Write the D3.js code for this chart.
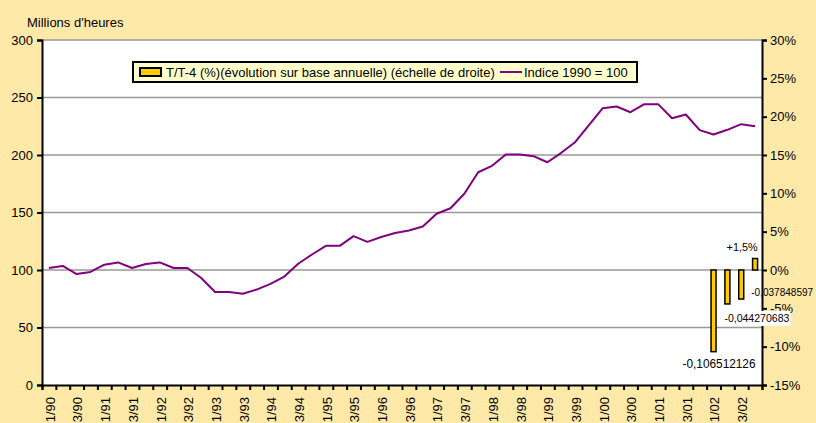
<!DOCTYPE html>
<html>
<head>
<meta charset="utf-8">
<script src="https://cdn.jsdelivr.net/npm/d3@7"></script>
<style>
  html, body { margin: 0; padding: 0; background: #FFE9A8; }
  svg { display: block; }
  text { font-family: "Liberation Sans", Arial, sans-serif; font-size: 13px; fill: #000; }
</style>
</head>
<body>
<svg id="chart" width="816" height="423"></svg>
<script>
// Quarterly categories, 1990 Q1 to 2002 Q4
const quarters = [
  "1/90","2/90","3/90","4/90","1/91","2/91","3/91","4/91",
  "1/92","2/92","3/92","4/92","1/93","2/93","3/93","4/93",
  "1/94","2/94","3/94","4/94","1/95","2/95","3/95","4/95",
  "1/96","2/96","3/96","4/96","1/97","2/97","3/97","4/97",
  "1/98","2/98","3/98","4/98","1/99","2/99","3/99","4/99",
  "1/00","2/00","3/00","4/00","1/01","2/01","3/01","4/01",
  "1/02","2/02","3/02","4/02"
];

// Index of hours worked, 1990 = 100 (left scale)
const indexValues = [
  101.7, 103.5,  96.5,  98.3, 104.6, 106.6, 101.7, 105.2,
  106.6, 101.7, 101.7,  93.0,  80.9,  80.9,  79.3,  83.0,
   88.0,  94.3, 105.4, 113.5, 121.0, 121.0, 129.4, 124.5,
  128.7, 132.2, 134.3, 137.8, 148.9, 153.7, 166.3, 185.0,
  190.6, 200.4, 200.4, 199.0, 193.7, 201.9, 211.1, 225.9,
  240.7, 242.2, 237.2, 244.2, 244.2, 232.0, 235.2, 221.6,
  217.8, 221.9, 226.8, 225.0
];

// Year-on-year change T/T-4 (right scale)
const barQuarters = ["1/02", "2/02", "3/02", "4/02"];
const barValues = [-0.106512126, -0.044270683, -0.037848597, 0.015];
const barLabels = ["-0,106512126", "-0,044270683", "-0,037848597", "+1,5%"];

// Axis ticks
const leftTicks = [0, 50, 100, 150, 200, 250, 300];
const rightTicks = [-0.15, -0.10, -0.05, 0, 0.05, 0.10, 0.15, 0.20, 0.25, 0.30];
const labelledQuarters = quarters.filter(q => q[0] === "1" || q[0] === "3");

const plot = { left: 42, right: 762, top: 40, bottom: 385 };
const svg = d3.select("#chart");

const x = d3.scaleBand().domain(quarters).range([plot.left, plot.right]).padding(0);
const xEdge = d3.scaleLinear().domain([0, quarters.length]).range([plot.left, plot.right]);
const yLeft = d3.scaleLinear().domain([0, 300]).range([plot.bottom, plot.top]);
const yRight = d3.scaleLinear().domain([-0.15, 0.30]).range([plot.bottom, plot.top]);

// Plot area
svg.append("rect")
  .attr("x", plot.left).attr("y", plot.top)
  .attr("width", plot.right - plot.left).attr("height", plot.bottom - plot.top)
  .attr("fill", "#fff");

// Horizontal gridlines
svg.append("g").selectAll("line")
  .data(leftTicks.filter(d => d > 0))
  .join("line")
  .attr("x1", plot.left).attr("x2", plot.right)
  .attr("y1", d => yLeft(d)).attr("y2", d => yLeft(d))
  .attr("stroke", "#999").attr("stroke-width", 1.5);

// Index line
const line = d3.line()
  .x((d, i) => x(quarters[i]) + x.bandwidth() / 2)
  .y(d => yLeft(d));
svg.append("path")
  .datum(indexValues)
  .attr("d", line)
  .attr("fill", "none")
  .attr("stroke", "#800080")
  .attr("stroke-width", 2)
  .attr("stroke-linejoin", "round");

// Bars, anchored at 0 %
const barW = 5;
svg.append("g").selectAll("rect")
  .data(barValues)
  .join("rect")
  .attr("x", (d, i) => x(barQuarters[i]) + x.bandwidth() / 2 - barW / 2)
  .attr("y", d => Math.min(yRight(d), yRight(0)))
  .attr("width", barW)
  .attr("height", d => Math.abs(yRight(d) - yRight(0)))
  .attr("fill", "#FFCC00")
  .attr("stroke", "#000")
  .attr("stroke-width", 1.5);

// Left axis
const axL = svg.append("g")
  .attr("transform", `translate(${plot.left},0)`)
  .call(d3.axisLeft(yLeft).tickValues(leftTicks).tickSize(5).tickPadding(4).tickFormat(d3.format("d")));

// Right axis
const axR = svg.append("g")
  .attr("transform", `translate(${plot.right},0)`)
  .call(d3.axisRight(yRight).tickValues(rightTicks).tickSize(5).tickPadding(3)
    .tickFormat(d => Math.round(d * 100) + "%"));

// Bottom axis: ticks between categories
const axB = svg.append("g")
  .attr("transform", `translate(0,${plot.bottom})`)
  .call(d3.axisBottom(xEdge).tickValues(d3.range(quarters.length + 1)).tickSize(5).tickFormat(""));

// Category labels, rotated
const axLab = svg.append("g")
  .attr("transform", `translate(0,${plot.bottom})`)
  .call(d3.axisBottom(x).tickValues(labelledQuarters).tickSize(0).tickPadding(0));
axLab.select(".domain").remove();
axLab.selectAll("text")
  .attr("transform", "translate(0,12) rotate(-90)")
  .attr("text-anchor", "end")
  .attr("x", 0).attr("y", 0)
  .attr("dy", "0.45em");

[axL, axR, axB].forEach(g => {
  g.select(".domain").attr("stroke", "#000").attr("stroke-width", 2);
  g.selectAll(".tick line").attr("stroke", "#000").attr("stroke-width", 2);
});
svg.selectAll(".tick text")
  .style("font-family", '"Liberation Sans", Arial, sans-serif')
  .style("font-size", "13px").attr("fill", "#000");

// Bar value labels (condensed to fit beside the bars)
const bx = i => x(barQuarters[i]) + x.bandwidth() / 2;
const labelSpec = [
  { dx: 5.5, anchor: "middle", y: i => yRight(barValues[i]) + 16.5, size: 12, len: 73, box: false },
  { dx: -3,  anchor: "start",  y: i => yRight(barValues[i]) + 18,   size: 11, len: 65, box: true },
  { dx: 10,  anchor: "start",  y: i => yRight(barValues[i]) - 3,    size: 11, len: 62, box: false },
  { dx: -13, anchor: "middle", y: i => yRight(barValues[i]) - 8,    size: 11, len: 31, box: false }
];
barLabels.forEach((txt, i) => {
  const s = labelSpec[i];
  const t = svg.append("text")
    .attr("x", bx(i) + s.dx)
    .attr("y", s.y(i))
    .attr("text-anchor", s.anchor)
    .style("font-size", s.size + "px")
    .attr("textLength", s.len)
    .attr("lengthAdjust", "spacingAndGlyphs")
    .text(txt);
  if (s.box) {
    const bb = t.node().getBBox();
    svg.insert("rect", () => t.node())
      .attr("x", bb.x - 2).attr("y", bb.y - 1)
      .attr("width", bb.width + 3).attr("height", bb.height + 3)
      .attr("fill", "#fff");
  }
});

// Axis title
svg.append("text").attr("x", 27).attr("y", 26.5).text("Millions d'heures");

// Legend
const lg = svg.append("g");
lg.append("rect").attr("x", 133).attr("y", 62).attr("width", 504).attr("height", 20)
  .attr("fill", "#FFFFCC").attr("stroke", "#000").attr("stroke-width", 2);
lg.append("rect").attr("x", 140).attr("y", 68).attr("width", 21).attr("height", 8)
  .attr("fill", "#FFCC00").attr("stroke", "#000").attr("stroke-width", 2);
lg.append("text").attr("x", 166).attr("y", 77)
  .text("T/T-4 (%)(évolution sur base annuelle) (échelle de droite)");
lg.append("line").attr("x1", 500).attr("x2", 522).attr("y1", 72).attr("y2", 72)
  .attr("stroke", "#800080").attr("stroke-width", 2);
lg.append("text").attr("x", 524).attr("y", 77).text("Indice 1990 = 100");
</script>
</body>
</html>
